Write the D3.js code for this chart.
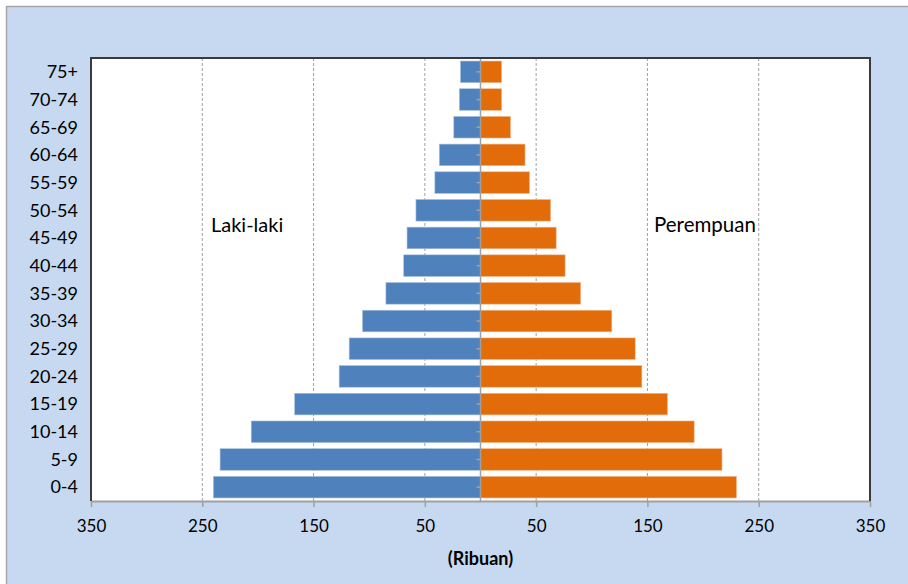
<!DOCTYPE html>
<html>
<head>
<meta charset="utf-8">
<script src="https://cdn.jsdelivr.net/npm/d3@7"></script>
<style>
  body { margin: 0; background: #fff; }
  text { font-family: Lato, "Open Sans", sans-serif; fill: #000; }
</style>
</head>
<body>
<div id="chart"></div>
<script>
// age groups, top to bottom
var ageGroups = ["75+", "70-74", "65-69", "60-64", "55-59", "50-54", "45-49", "40-44",
                 "35-39", "30-34", "25-29", "20-24", "15-19", "10-14", "5-9", "0-4"];

// population in thousands (ribuan)
var lakiLaki  = [18, 19, 24, 37, 41, 58, 66, 69, 85, 106, 118, 127, 167, 206, 234, 240];
var perempuan = [19, 19, 27, 40, 44, 63, 68, 76, 90, 118, 139, 145, 168, 192, 217, 230];

var tickValues = [-350, -250, -150, -50, 50, 150, 250, 350];

var W = 908, H = 584;
var margin = {top: 58, right: 38, bottom: 83, left: 91},
    width = W - margin.left - margin.right,
    height = H - margin.top - margin.bottom;

var root = d3.select("#chart").append("svg")
    .attr("width", W)
    .attr("height", H);

// chart area background
root.append("rect")
    .attr("x", 6.5).attr("y", 6.5)
    .attr("width", W + 10).attr("height", H + 10)
    .attr("fill", "#c6d9f1")
    .attr("stroke", "#a6a6a6")
    .attr("stroke-width", 1.5);

var svg = root.append("g")
    .attr("transform", "translate(" + margin.left + "," + margin.top + ")");

// plot area
svg.append("rect")
    .attr("width", width).attr("height", height)
    .attr("fill", "#fff");

var x = d3.scaleLinear()
    .domain([-350, 350])
    .range([0, width]);

var y = d3.scaleBand()
    .domain(ageGroups)
    .range([0, height])
    .paddingInner(0.22)
    .paddingOuter(0.11);

// dashed gridlines
svg.selectAll(".grid")
    .data(tickValues.slice(1, -1))
    .enter()
    .append("line")
      .attr("x1", function(d) { return x(d) })
      .attr("x2", function(d) { return x(d) })
      .attr("y1", 0)
      .attr("y2", height)
      .attr("stroke", "#a0a0a0")
      .attr("stroke-width", 1)
      .attr("stroke-dasharray", "3,2");

// male bars
svg.selectAll(".male")
    .data(lakiLaki)
    .enter()
    .append("rect")
      .attr("x", function(d) { return x(-d) })
      .attr("y", function(d, i) { return y(ageGroups[i]) })
      .attr("width", function(d) { return x(0) - x(-d) })
      .attr("height", y.bandwidth())
      .attr("fill", "#4f81bd")
      .attr("stroke", "#a7c0de")
      .attr("stroke-width", 0.6);

// female bars
svg.selectAll(".female")
    .data(perempuan)
    .enter()
    .append("rect")
      .attr("x", x(0))
      .attr("y", function(d, i) { return y(ageGroups[i]) })
      .attr("width", function(d) { return x(d) - x(0) })
      .attr("height", y.bandwidth())
      .attr("fill", "#e36c0a")
      .attr("stroke", "#f2b68a")
      .attr("stroke-width", 0.6);

// vertical category axis at 0
svg.append("line")
    .attr("x1", x(0)).attr("x2", x(0))
    .attr("y1", 0).attr("y2", height)
    .attr("stroke", "#a0a0a0")
    .attr("stroke-width", 1.5);

svg.selectAll(".ctick")
    .data(ageGroups)
    .enter()
    .append("line")
      .attr("x1", x(0) - 4).attr("x2", x(0))
      .attr("y1", function(d) { return y(d) + y.bandwidth() / 2 })
      .attr("y2", function(d) { return y(d) + y.bandwidth() / 2 })
      .attr("stroke", "#a0a0a0")
      .attr("stroke-width", 1.5);

// category labels
svg.selectAll(".clabel")
    .data(ageGroups)
    .enter()
    .append("text")
      .attr("x", -13)
      .attr("y", function(d) { return y(d) + y.bandwidth() / 2 })
      .attr("dy", "0.35em")
      .attr("text-anchor", "end")
      .style("font-size", "18px")
      .text(function(d) { return d });

// bottom axis
var xAxis = svg.append("g")
    .attr("transform", "translate(0," + height + ")")
    .call(d3.axisBottom(x)
      .tickValues(tickValues)
      .tickFormat(function(d) { return Math.abs(d) })
      .tickSize(6)
      .tickPadding(13)
      .tickSizeOuter(0));
xAxis.select(".domain").attr("stroke", "#a0a0a0").attr("stroke-width", 2);
xAxis.selectAll(".tick line").attr("stroke", "#a0a0a0").attr("stroke-width", 1.5);
xAxis.selectAll(".tick text")
    .style("font-family", "Lato, 'Open Sans', sans-serif")
    .style("font-size", "17px")
    .attr("fill", "#000");

// plot frame: top, left, right
svg.append("path")
    .attr("d", "M0," + height + "V0H" + width + "V" + height)
    .attr("fill", "none")
    .attr("stroke", "#3a3a3a")
    .attr("stroke-width", 2);

// series labels
svg.append("text")
    .attr("x", 120).attr("y", 174)
    .style("font-size", "20px")
    .text("Laki-laki");

svg.append("text")
    .attr("x", 563).attr("y", 174)
    .style("font-size", "20.5px")
    .text("Perempuan");

// axis title
svg.append("text")
    .attr("x", x(0))
    .attr("y", height + 64)
    .attr("text-anchor", "middle")
    .style("font-size", "18px")
    .style("font-weight", "bold")
    .text("(Ribuan)");
</script>
</body>
</html>
